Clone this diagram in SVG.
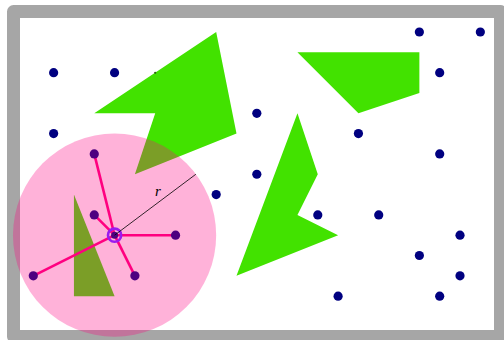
<svg xmlns="http://www.w3.org/2000/svg" width="504" height="340" viewBox="0 0 504 340">
<style>
.poly{fill:#42e200;stroke:none}
.dot{fill:#000080}
.edge{stroke:#ff0080;stroke-width:2.6;fill:none}
.lbl{font-family:"Liberation Serif","DejaVu Serif",serif;font-style:italic;font-size:15px;fill:#000}
</style>
<rect x="0" y="0" width="504" height="340" fill="#fff"/>
<g id="frame">
<rect x="13.5" y="11.5" width="487" height="325" fill="#fff" stroke="#a6a6a6" stroke-width="13" stroke-linejoin="round"/>
</g>
<g id="obstacles">
<polygon id="obstacle1" class="poly" points="216.18,32 236.5,133.6 134.9,174.24 155.22,113.28 94.26,113.28"/>
<polygon id="obstacle2" class="poly" points="297.46,52.32 419.38,52.32 419.38,92.96 358.42,113.28"/>
<polygon id="obstacle3" class="poly" points="297.46,113.28 317.78,174.24 297.46,214.88 338.1,235.2 236.5,275.84"/>
<polygon id="obstacle4" class="poly" points="73.94,194.56 114.58,296.16 73.94,296.16"/>
<circle cx="155.2" cy="72.8" r="1.1" fill="#2f5f14"/>
</g>
<g id="connectors">
<line class="edge" x1="114.58" y1="235.2" x2="94.26" y2="153.92"/>
<line class="edge" x1="114.58" y1="235.2" x2="94.26" y2="214.88"/>
<line class="edge" x1="114.58" y1="235.2" x2="175.54" y2="235.2"/>
<line class="edge" x1="114.58" y1="235.2" x2="33.3" y2="275.84"/>
<line class="edge" x1="114.58" y1="235.2" x2="134.9" y2="275.84"/>
</g>
<g id="points">
<circle class="dot" cx="419.38" cy="32" r="4.6"/>
<circle class="dot" cx="480.34" cy="32" r="4.6"/>
<circle class="dot" cx="53.62" cy="72.64" r="4.6"/>
<circle class="dot" cx="114.58" cy="72.64" r="4.6"/>
<circle class="dot" cx="439.7" cy="72.64" r="4.6"/>
<circle class="dot" cx="256.82" cy="113.28" r="4.6"/>
<circle class="dot" cx="53.62" cy="133.6" r="4.6"/>
<circle class="dot" cx="358.42" cy="133.6" r="4.6"/>
<circle class="dot" cx="94.26" cy="153.92" r="4.6"/>
<circle class="dot" cx="439.7" cy="153.92" r="4.6"/>
<circle class="dot" cx="256.82" cy="174.24" r="4.6"/>
<circle class="dot" cx="216.18" cy="194.56" r="4.6"/>
<circle class="dot" cx="94.26" cy="214.88" r="4.6"/>
<circle class="dot" cx="317.78" cy="214.88" r="4.6"/>
<circle class="dot" cx="378.74" cy="214.88" r="4.6"/>
<circle class="dot" cx="114.58" cy="235.2" r="3.5"/>
<circle class="dot" cx="175.54" cy="235.2" r="4.6"/>
<circle class="dot" cx="460.02" cy="235.2" r="4.6"/>
<circle class="dot" cx="419.38" cy="255.52" r="4.6"/>
<circle class="dot" cx="33.3" cy="275.84" r="4.6"/>
<circle class="dot" cx="134.9" cy="275.84" r="4.6"/>
<circle class="dot" cx="460.02" cy="275.84" r="4.6"/>
<circle class="dot" cx="338.1" cy="296.16" r="4.6"/>
<circle class="dot" cx="439.7" cy="296.16" r="4.6"/>
</g>
<g id="neighborhood">
<circle cx="114.58" cy="235.2" r="101.6" fill="#ff0080" fill-opacity="0.3"/>
<circle cx="114.58" cy="235.2" r="6.6" fill="none" stroke="#9a1cf0" stroke-width="2.6"/>
<line x1="114.58" y1="235.2" x2="195.86" y2="174.24" stroke="#000" stroke-width="0.8"/>
<text class="lbl" x="158" y="196" text-anchor="middle">r</text>
</g>
</svg>
